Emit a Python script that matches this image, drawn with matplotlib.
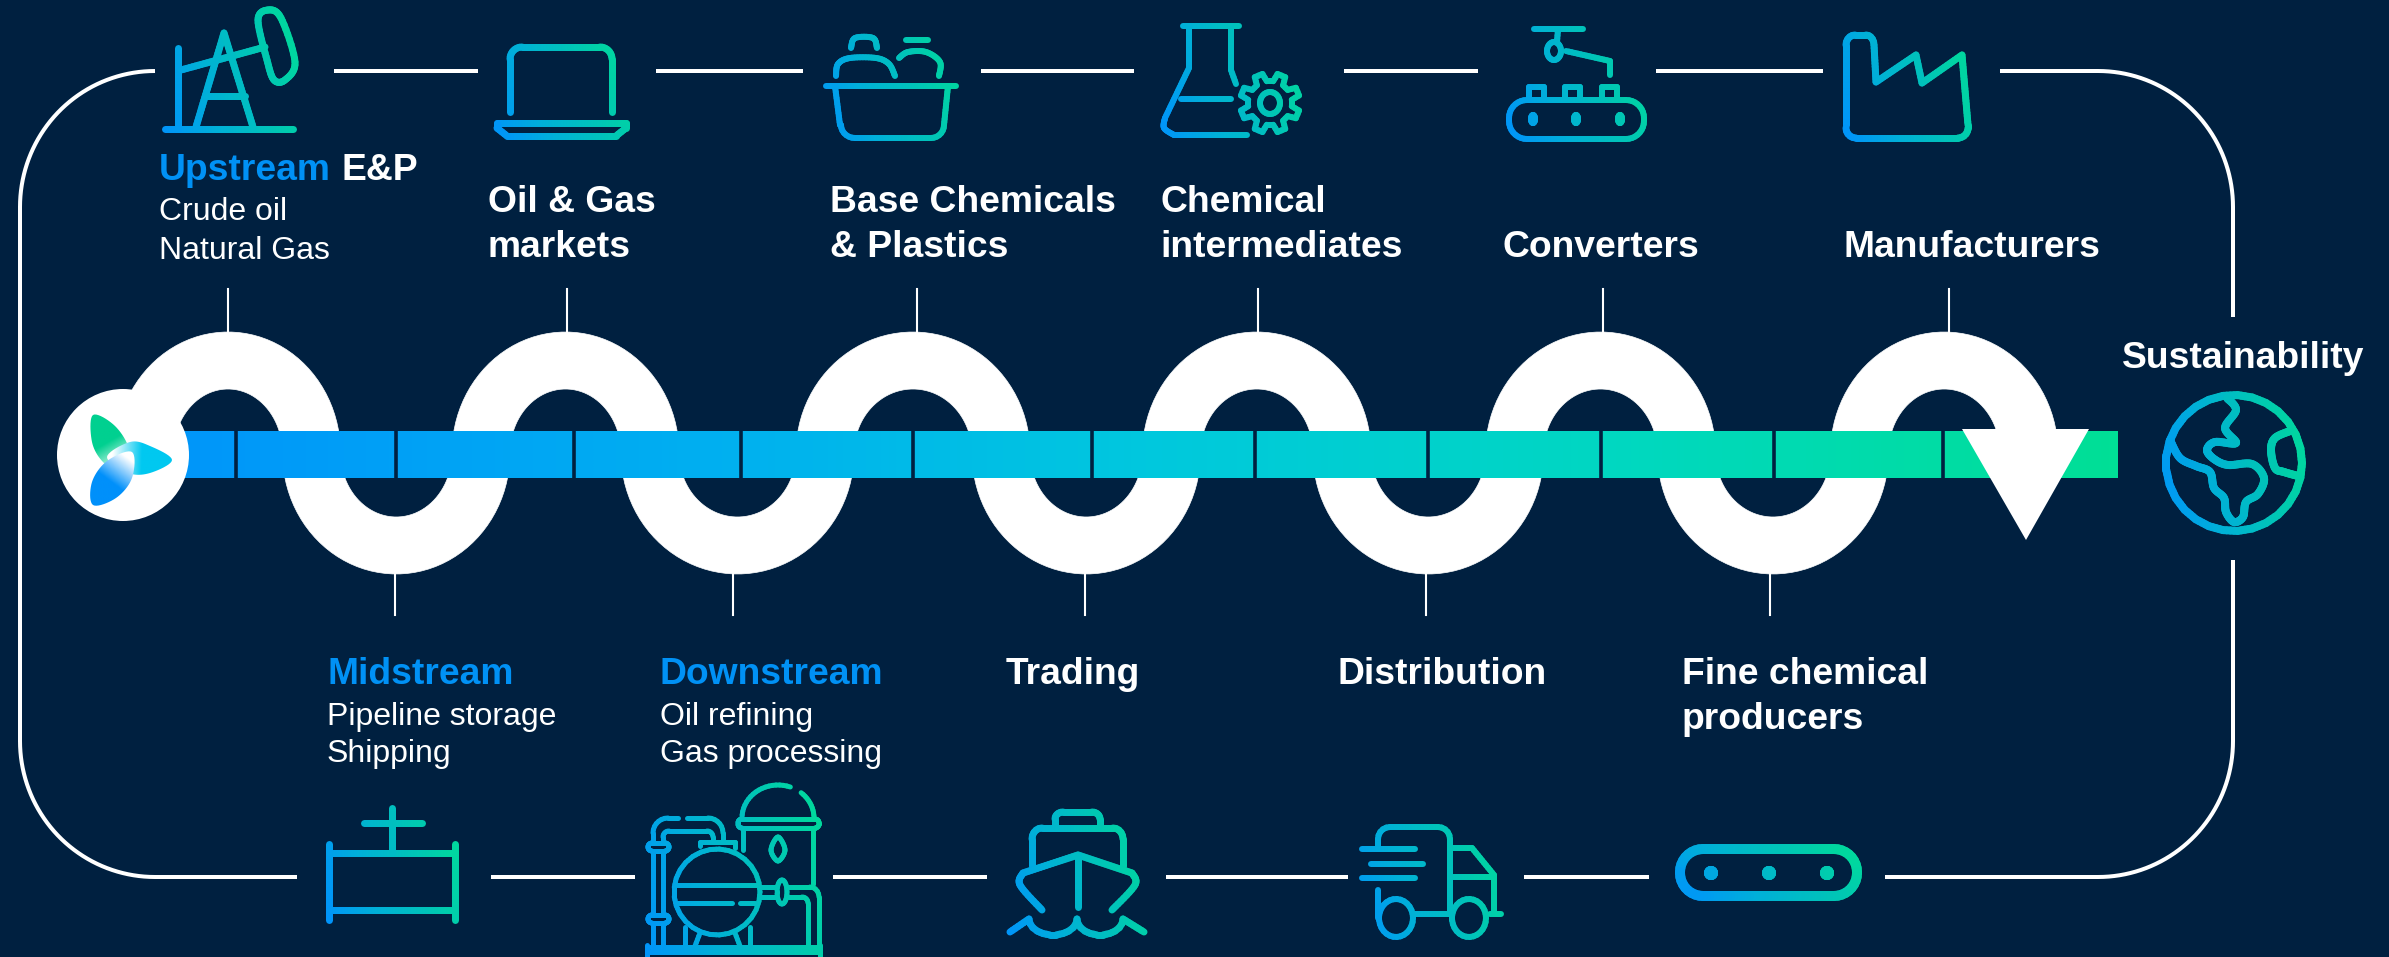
"""Oil and gas value chain infographic, drawn in pixel coordinates of the picture."""
import numpy as np
import matplotlib
matplotlib.use("Agg")
import matplotlib.pyplot as plt
from matplotlib.collections import LineCollection
from matplotlib.colors import LinearSegmentedColormap
from matplotlib.patches import Circle, PathPatch, Polygon
from matplotlib.path import Path

W, H = 2389, 957
BG = "#002040"
BLUE = "#0091F5"
grad = LinearSegmentedColormap.from_list("icons", ["#0094FA", "#00B0D8", "#00C4B8", "#00DC98"])
bar_grad = LinearSegmentedColormap.from_list(
    "bar", [(0, "#0096FA"), (0.28, "#00B0F0"), (0.5, "#00C8DE"), (0.75, "#00D8C0"), (1, "#00DF96")])

# labels: (x, baseline y, text)
bold_labels = [(488, 212, "Oil & Gas"), (488, 257, "markets"),
               (830, 212, "Base Chemicals"), (830, 257, "& Plastics"),
               (1160, 212, "Chemical"), (1160, 257, "intermediates"),
               (1502, 257, "Converters"), (1844, 257, "Manufacturers"),
               (2122, 368, "Sustainability"),
               (1006, 684, "Trading"), (1338, 684, "Distribution"),
               (1682, 684, "Fine chemical"), (1682, 729, "producers"),
               (341, 180, "E&P")]
blue_labels = [(159, 180, "Upstream"), (327, 684, "Midstream"), (660, 684, "Downstream")]
plain_labels = [(159, 220, "Crude oil"), (159, 259, "Natural Gas"),
                (327, 725, "Pipeline storage"), (327, 762, "Shipping"),
                (660, 725, "Oil refining"), (660, 762, "Gas processing")]

# wave and bar
wave_crossings = [144.5, 311.5, 481, 650, 825, 1001, 1171.5, 1342, 1514.5, 1686.5, 1859.5, 2029]
upper_ticks = [228, 567, 917, 1258, 1603, 1949]
lower_ticks = [395, 733, 1085, 1426, 1770]
bar_dividers = [236, 396, 574, 741, 913, 1092, 1255, 1428, 1601, 1774, 1943]

# gaps in the white frame, where the icons sit
top_runs = [(334, 478), (656, 803), (981, 1134), (1344, 1478), (1656, 1823)]
bottom_runs = [(491, 635), (833, 987), (1166, 1348), (1524, 1649)]

fig = plt.figure(figsize=(W / 100, H / 100), dpi=100, facecolor=BG)
ax = fig.add_axes([0, 0, 1, 1])
ax.set_facecolor(BG)
ax.axis("off")
plt.rcParams["font.family"] = ["Liberation Sans", "DejaVu Sans"]


def arc(cx, cy, rx, ry, a0, a1, n=40):
    a = np.radians(np.linspace(a0, a1, n))
    return np.column_stack([cx + rx * np.cos(a), cy - ry * np.sin(a)])


def rrect(x0, y0, x1, y1, r):
    return np.vstack([arc(x0 + r, y0 + r, r, r, 180, 90, 10), arc(x1 - r, y0 + r, r, r, 90, 0, 10),
                      arc(x1 - r, y1 - r, r, r, 0, -90, 10), arc(x0 + r, y1 - r, r, r, -90, -180, 10),
                      [[x0, y0 + r]]])


def smooth(pts, closed=False):
    # catmull-rom through the given points
    p = np.array(pts, float)
    if closed:
        p = np.vstack([p[-1], p, p[0], p[1]])
    else:
        p = np.vstack([p[0], p, p[-1]])
    out = []
    for i in range(1, len(p) - 2):
        for t in np.linspace(0, 1, 10, endpoint=False):
            out.append(0.5 * (2 * p[i] + (p[i + 1] - p[i - 1]) * t
                              + (2 * p[i - 1] - 5 * p[i] + 4 * p[i + 1] - p[i + 2]) * t ** 2
                              + (3 * p[i] - p[i - 1] - 3 * p[i + 1] + p[i + 2]) * t ** 3))
    out.append(p[-2])
    return np.array(out)


def icon(polys, lw=7, z=5):
    # every stroke gets the blue to green gradient across the icon box
    polys = [np.array(p, float) for p in polys]
    allp = np.vstack(polys)
    x0, y0 = allp.min(axis=0)
    x1, y1 = allp.max(axis=0)
    segs, cols = [], []
    for p in polys:
        dense = []
        for a, b in zip(p[:-1], p[1:]):
            n = max(1, int(np.hypot(*(b - a)) / 3))
            for t in np.linspace(0, 1, n, endpoint=False):
                dense.append(a + (b - a) * t)
        dense.append(p[-1])
        dense = np.array(dense)
        for a, b in zip(dense[:-1], dense[1:]):
            segs.append([a, b])
            m = (a + b) / 2
            cols.append(grad(0.8 * (m[0] - x0) / (x1 - x0) + 0.2 * (y1 - m[1]) / (y1 - y0)))
    ax.add_collection(LineCollection(segs, colors=cols, linewidths=lw * 0.72,
                                     capstyle="round", joinstyle="round", zorder=z))


def ell(cx, cy, rx, ry):
    return arc(cx, cy, rx, ry, 0, 360, 30)


# frame
fw = 4 * 0.72
frame = dict(color="white", lw=fw, solid_capstyle="butt", zorder=2)
for a, b in top_runs:
    ax.plot([a, b], [71, 71], **frame)
for a, b in bottom_runs:
    ax.plot([a, b], [877, 877], **frame)
p = np.vstack([arc(155, 207, 135, 136, 90, 180), arc(155, 741, 135, 136, 180, 270), [[297, 877]]])
ax.plot(p[:, 0], p[:, 1], **frame)
p = np.vstack([[[2000, 71]], arc(2098, 207, 135, 136, 90, 0), [[2233, 317]]])
ax.plot(p[:, 0], p[:, 1], **frame)
p = np.vstack([[[2233, 560]], arc(2098, 741, 135, 136, 0, -90), [[1885, 877]]])
ax.plot(p[:, 0], p[:, 1], **frame)

# wave, half rings going up and down behind the bar
MID, HALF = 453, 29
for k, (a, b) in enumerate(zip(wave_crossings[:-1], wave_crossings[1:])):
    cx, r = (a + b) / 2, (b - a) / 2
    s = 1 if k % 2 == 0 else -1
    outer = arc(cx, MID, r + HALF, 121, 0, s * 180, 50)
    inner = arc(cx, MID, r - HALF, 64, s * 180, 0, 50)
    ax.add_patch(Polygon(np.vstack([outer, inner]), closed=True, fc="white", ec="white", lw=0.5, zorder=3))

for x in upper_ticks:
    ax.plot([x, x], [289, 334], color="white", lw=1.5, zorder=2)
for x in lower_ticks:
    ax.plot([x, x], [571, 615], color="white", lw=1.5, zorder=2)

# gradient bar
ax.imshow(np.linspace(0.0, 1, 512)[None, :], cmap=bar_grad, vmin=0, vmax=1, aspect="auto",
          extent=(175, 2118, 478, 431), zorder=4, interpolation="bilinear")
for x in bar_dividers:
    ax.plot([x, x], [431, 478], color=BG, lw=2.6, solid_capstyle="butt", zorder=4.5)

# arrow head
ax.add_patch(Polygon([(1962, 429), (2089, 429), (2026, 540)], closed=True, fc="white", ec="none", zorder=4.6))

# logo
ax.add_patch(Circle((123, 455), 66, fc="white", ec="none", zorder=6))
petals = [
    ([(93, 415), (115, 426), (129, 450), (122, 473), (103, 462), (92, 442)], (93, 415), (124, 468), "#00D090"),
    ([(172, 460), (150, 446), (130, 442), (107, 457), (128, 473), (150, 473)], (172, 460), (112, 458), "#00C8F0"),
    ([(93, 505), (116, 498), (132, 478), (132, 452), (107, 461), (92, 482)], (93, 505), (128, 458), "#0090FA"),
]
for pts, tip, end, col in petals:
    outline = smooth(pts, closed=True)
    patch = PathPatch(Path(outline), fc="none", ec="none", zorder=6.5)
    ax.add_patch(patch)
    xx, yy = np.meshgrid(np.linspace(80, 180, 120), np.linspace(405, 510, 120))
    d = np.array(end, float) - tip
    v = ((xx - tip[0]) * d[0] + (yy - tip[1]) * d[1]) / (d @ d)
    cm = LinearSegmentedColormap.from_list("petal", [col, col, "#FFFFFF"])
    im = ax.imshow(np.clip(v, 0, 1), cmap=cm, vmin=0, vmax=1, extent=(80, 180, 510, 405),
                   aspect="auto", zorder=6.5, interpolation="bilinear")
    im.set_clip_path(patch)

# icons
icon([[(165, 129), (293, 129)], [(178, 48), (178, 129)], [(181, 70), (265, 47)],
      [(224, 33), (196, 127)], [(224, 33), (253, 127)], [(205, 96), (245, 96)],
      smooth([(258, 20), (268, 10), (281, 18), (295, 62), (285, 80), (274, 80), (267, 60)], closed=True)], lw=7)
icon([np.vstack([[[510, 112]], arc(522, 59, 12, 12, 180, 90, 8), arc(600, 59, 12, 12, 90, 0, 8), [[612, 112]]]),
      [(497, 123), (626, 123), (626, 128), (616, 136), (507, 136), (497, 128), (497, 123)]], lw=7)
icon([[(826, 86), (956, 86)],
      np.vstack([[[835, 86], [840, 125]], arc(855, 125, 14, 13, 180, 270, 8)]), [(855, 138), (931, 138)],
      np.vstack([arc(931, 125, 13, 13, 270, 360, 8), [[948, 86]]]),
      smooth([(836, 76), (838, 64), (850, 58), (876, 58), (889, 64), (895, 76)]),
      smooth([(851, 48), (855, 38), (873, 38), (877, 48)]),
      smooth([(899, 58), (908, 52), (926, 52), (940, 62), (939, 76)]), [(906, 40), (928, 40)]], lw=6)
gear_a, gear_r = [], []
for k in range(8):
    for da, rr in [(-14, 22), (-8, 30), (8, 30), (14, 22)]:
        gear_a.append(np.radians(k * 45 + 22.5 + da))
        gear_r.append(rr)
gear_a, gear_r = np.array(gear_a), np.array(gear_r)
gear = np.column_stack([1270 + gear_r * np.cos(gear_a), 103 + gear_r * np.sin(gear_a)])
icon([[(1183, 26), (1239, 26)], [(1189, 26), (1189, 68), (1165, 118)],
      smooth([(1165, 118), (1164, 128), (1174, 135)]), [(1174, 135), (1247, 135)],
      [(1231, 26), (1231, 70), (1236, 84)], [(1181, 99), (1231, 99)],
      np.vstack([gear, gear[:1]]), ell(1270, 103, 10, 11)], lw=6)
icon([rrect(1509, 100, 1644, 139, 18),
      ell(1533, 119, 2, 4), ell(1576, 119, 2, 4), ell(1620, 119, 2, 4),
      [(1529, 99), (1529, 87), (1544, 87), (1544, 99)], [(1565, 99), (1565, 87), (1580, 87), (1580, 99)],
      [(1602, 99), (1602, 87), (1617, 87), (1617, 99)],
      [(1534, 29), (1583, 29)], [(1558, 29), (1557, 42)], ell(1554, 51, 7, 9),
      [(1566, 51), (1610, 61), (1610, 75)]], lw=6)
icon([np.vstack([[[1846, 125]], arc(1855, 45, 9, 10, 180, 90, 6), arc(1866, 45, 8, 10, 90, 0, 6),
                 [(1876, 82), (1916, 55), (1922, 83), (1962, 55), (1968, 125)],
                 arc(1958, 128, 10, 10, 0, -90, 6), arc(1856, 128, 10, 10, -90, -180, 6)])], lw=7)
# lower row
icon([[(329, 844), (329, 920)], [(455, 844), (455, 920)], [(329, 853), (455, 853)], [(329, 910), (455, 910)],
      [(392, 808), (392, 853)], [(364, 823), (422, 823)]], lw=7)
icon([[(647, 952), (820, 952)], [(650, 947), (817, 947)], [(647, 945), (647, 957)], [(820, 945), (820, 957)],
      ell(717, 892, 43, 43), [(700, 846), (700, 842), (735, 842), (735, 848)],
      [(675, 885), (758, 885)], [(677, 903), (732, 903)], [(740, 903), (755, 903)],
      np.vstack([[[653, 842]], arc(668, 833, 15, 15, 180, 90, 8), [[678, 818]]]),
      np.vstack([[[687, 818]], arc(708, 833, 15, 15, 90, 0, 8), [[723, 842]]]),
      np.vstack([[[663, 842]], arc(669, 837, 6, 6, 180, 90, 6), arc(707, 837, 6, 6, 90, 0, 6), [[713, 842]]]),
      rrect(648, 843, 669, 851, 4), rrect(648, 915, 669, 923, 4),
      [(653, 852), (653, 914)], [(663, 852), (663, 914)], [(653, 924), (653, 946)], [(663, 924), (663, 946)],
      rrect(738, 819, 819, 828, 4), arc(778, 818, 36, 33, 180, 70, 20), arc(778, 818, 36, 33, 50, 0, 12),
      [(743, 829), (743, 850)], [(813, 829), (813, 884)],
      smooth([(778, 837), (771, 850), (778, 861), (785, 850)], closed=True),
      [(760, 887), (776, 887)], [(760, 897), (776, 897)], ell(782, 892, 5, 12),
      np.vstack([[(788, 887), (810, 887)], arc(810, 897, 9, 10, 90, 0, 6), [[819, 950]]]),
      np.vstack([[(788, 897), (802, 897)], arc(802, 903, 6, 6, 90, 0, 6), [[808, 946]]]),
      [(685, 927), (685, 946)], [(700, 933), (695, 946)], [(735, 933), (740, 946)], [(750, 927), (750, 946)]], lw=5)
icon([np.vstack([[[1055, 828]], arc(1063, 819, 8, 7, 180, 90, 6), arc(1092, 819, 8, 7, 90, 0, 6), [[1100, 828]]]),
      np.vstack([[[1032, 866]], arc(1042, 839, 10, 11, 180, 90, 6), arc(1113, 839, 10, 11, 90, 0, 6), [[1123, 866]]]),
      smooth([(1042, 910), (1020, 885), (1023, 873)]), [(1023, 873), (1078, 855), (1132, 873)],
      smooth([(1132, 873), (1135, 885), (1112, 910)]), [(1078, 855), (1078, 907)],
      np.vstack([[[1010, 932], [1029, 919]], arc(1053, 919, 24, 16, 180, 360, 12),
                 arc(1100, 919, 23, 16, 180, 360, 12), [[1144, 932]]])], lw=7)
icon([np.vstack([[[1378, 848]], arc(1390, 839, 12, 12, 180, 90, 6), arc(1438, 839, 12, 12, 90, 0, 6), [[1450, 912]]]),
      [(1362, 849), (1415, 849)], [(1371, 864), (1423, 864)], [(1362, 878), (1415, 878)],
      [(1452, 848), (1472, 848), (1494, 875), (1494, 912)], [(1452, 877), (1494, 877)],
      ell(1396, 918, 17, 19), ell(1469, 918, 17, 19), [(1414, 914), (1450, 914)],
      [(1378, 890), (1378, 918)], [(1490, 914), (1501, 914)]], lw=6)
icon([rrect(1680, 849, 1857, 896, 23), ell(1711, 873, 2, 2), ell(1769, 873, 2, 2), ell(1827, 873, 2, 2)], lw=10)
# globe
icon([ell(2234, 463, 68, 68),
      smooth([(2227, 398), (2236, 410), (2225, 428), (2236, 443), (2215, 442), (2207, 450), (2214, 459), (2228, 465),
              (2252, 464), (2264, 478), (2258, 494), (2246, 502), (2243, 517), (2234, 522), (2226, 512), (2224, 498),
              (2214, 488), (2210, 472), (2196, 466), (2180, 458), (2170, 440)]),
      smooth([(2290, 431), (2275, 438), (2271, 450), (2275, 468), (2284, 472), (2298, 476)])], lw=8)

# texts
for x, y, s in bold_labels:
    ax.text(x, y, s, color="white", fontsize=26.8, fontweight="bold", va="baseline", ha="left", zorder=7)
for x, y, s in blue_labels:
    ax.text(x, y, s, color=BLUE, fontsize=26.8, fontweight="bold", va="baseline", ha="left", zorder=7)
for x, y, s in plain_labels:
    ax.text(x, y, s, color="white", fontsize=23, va="baseline", ha="left", zorder=7)

ax.set_xlim(0, W)
ax.set_ylim(H, 0)
fig.savefig("out.png", dpi=100, facecolor=BG)
